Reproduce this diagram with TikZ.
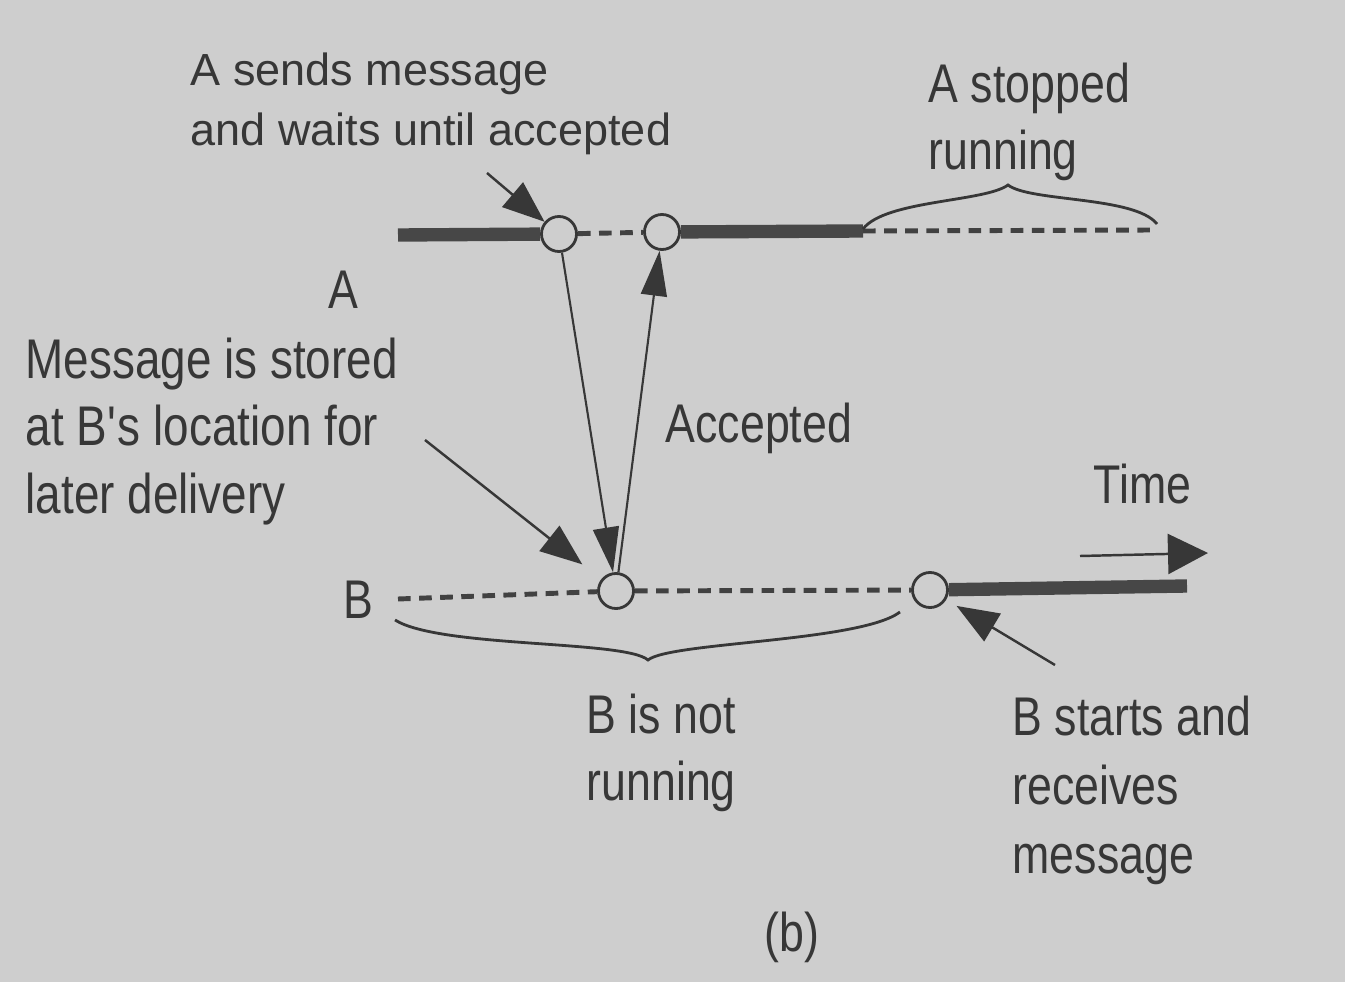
\documentclass[tikz,border=0pt]{standalone}
\usepackage{fontspec}
\setmainfont{Liberation Sans}
\newfontfamily\narrowf{Liberation Sans}[FakeStretch=0.82]
\usetikzlibrary{arrows.meta,backgrounds}
\definecolor{bg}{RGB}{206,206,206}
\definecolor{ink}{RGB}{55,55,55}
\begin{document}
\begin{tikzpicture}[x=0.01cm,y=-0.01cm,
  lbl/.style={inner sep=0,text=ink,font=\narrowf\fontsize{15.5}{19}\selectfont,align=left,anchor=north west},
  toplbl/.style={inner sep=0,text=ink,font=\fontsize{12.8}{17}\selectfont,align=left,anchor=north west},
  dot/.style={circle,draw=ink,line width=0.8pt,fill=bg,minimum size=0.35cm,inner sep=0},
  bar/.style={draw=ink!92,line width=3.8pt},
  dashline/.style={draw=ink!95,line width=1.4pt,dash pattern=on 3.6pt off 2.4pt},
  msg/.style={draw=ink,line width=0.6pt,-{Triangle[length=0.45cm,width=0.26cm]}},
  ptr/.style={draw=ink,line width=0.7pt,-{Triangle[length=0.42cm,width=0.32cm]}},
  brace/.style={draw=ink,line width=0.8pt}]
\useasboundingbox (0,0) rectangle (1345,982);
% nodes
\node[dot] (a1) at (559,234) {};
\node[dot] (a2) at (662,232) {};
\node[dot] (b1) at (616,591) {};
\node[dot] (b2) at (930,590) {};
\coordinate (abl) at (398,235);
\coordinate (astop) at (863,231);
\coordinate (aend) at (1155,230);
\coordinate (bbl) at (398,599);
\coordinate (bend) at (1187,586);
\coordinate (sendtail) at (487,173);
\coordinate (storetail) at (425,440);
\coordinate (starttail) at (1055,665);
\coordinate (timetail) at (1080,556);
\coordinate (timehead) at (1208,553);
% texts
\node[toplbl] (tsend) at (190,52) {A sends message\\and waits until accepted};
\node[lbl] (tstop) at (928,62) {A stopped\\running};
\node[lbl,anchor=center] (la) at (343,290) {A};
\node[lbl,font=\narrowf\fontsize{15.9}{19.2}\selectfont] (tstore) at (25,337) {Message is stored\\at B\textquotesingle s location for\\later delivery};
\node[lbl] (tacc) at (665,402) {Accepted};
\node[lbl] (ttime) at (1093,463) {Time};
\node[lbl,anchor=center] (lb) at (358,600) {B};
\node[lbl] (tnot) at (586,693) {B is not\\running};
\node[lbl,font=\narrowf\fontsize{15.5}{19.6}\selectfont] (tstart) at (1012,695) {B starts and\\receives\\message};
\node[lbl,anchor=center] (cap) at (792,937) {(b)};
\begin{scope}[on background layer]
\fill[bg] (0,0) rectangle (1345,982);
\draw[bar] (abl) -- (a1);
\draw[dashline] (a1) -- (a2);
\draw[bar] (a2) -- (astop);
\draw[dashline] (astop) -- (aend);
\draw[dashline] (bbl) -- (b1);
\draw[dashline] (b1) -- (b2);
\draw[bar] (b2) -- (bend);
\draw[msg] (a1) -- (b1);
\draw[msg] (b1) -- (a2);
\draw[ptr] (sendtail) -- (a1);
\draw[ptr,shorten >=0.24cm] (storetail) -- (b1);
\draw[ptr,shorten >=0.12cm] (starttail) -- (b2);
\draw[ptr,-{Triangle[length=0.4cm,width=0.4cm]}] (timetail) -- (timehead);
% braces
\draw[brace] (863,229) .. controls (885,200) and (985,202) .. (1008,185) .. controls (1030,202) and (1135,196) .. (1157,224);
\draw[brace] (395,620) .. controls (440,648) and (625,640) .. (648,660) .. controls (670,642) and (860,642) .. (900,612);
\end{scope}
\end{tikzpicture}
\end{document}
